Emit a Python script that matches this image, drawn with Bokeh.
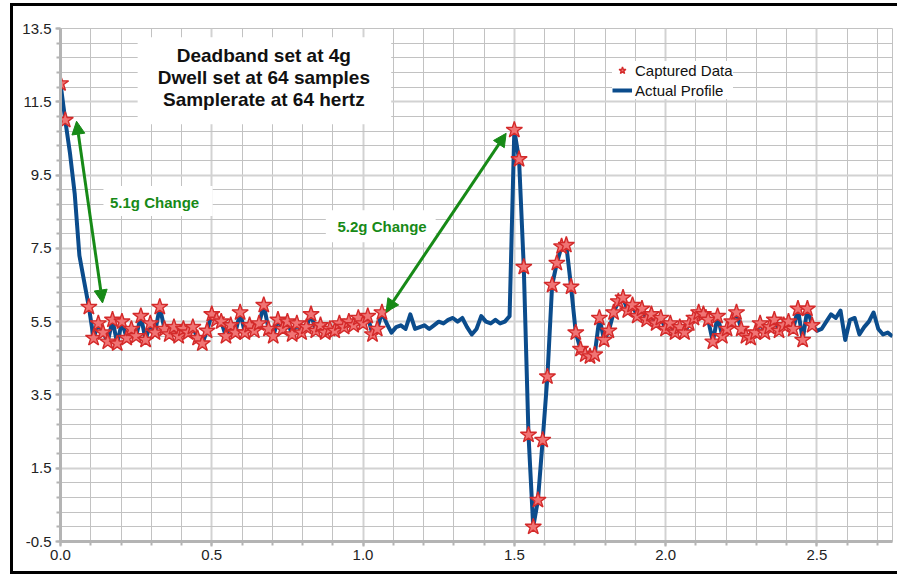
from bokeh.plotting import figure
from bokeh.models import (Range1d, FixedTicker, PrintfTickFormatter, Label, BoxAnnotation,
                          Arrow, NormalHead, Legend, LegendItem)
from bokeh.embed import file_html
from bokeh.resources import INLINE

# ---------------- data ----------------
SAMPLE_RATE = 64  # hertz

# Actual profile (g), one value per sample at 64 Hz, starting at t = 0 s
profile_g = [
    12.0, 11.0, 10.1, 9.0, 7.3, 6.6, 5.9, 5.05, 5.45, 5.2,
    4.95, 5.55, 4.9, 5.5, 5.05, 5.3, 5.1, 5.65, 5.0, 5.45,
    5.2, 5.9, 5.3, 5.15, 5.35, 5.1, 5.3, 5.2, 5.35, 5.05,
    4.9, 5.25, 5.7, 5.55, 5.5, 5.1, 5.4, 5.2, 5.75, 5.2,
    5.4, 5.25, 5.45, 5.95, 5.3, 5.1, 5.55, 5.3, 5.5, 5.15,
    5.45, 5.2, 5.35, 5.7, 5.25, 5.4, 5.2, 5.3, 5.25, 5.45,
    5.35, 5.5, 5.4, 5.6, 5.45, 5.65, 5.15, 5.3, 5.75, 5.45,
    5.2, 5.35, 5.4, 5.3, 5.7, 5.3, 5.35, 5.4, 5.3, 5.4,
    5.5, 5.45, 5.55, 5.6, 5.5, 5.6, 5.35, 5.15, 5.3, 5.65,
    5.5, 5.45, 5.55, 5.45, 5.5, 5.65, 10.73, 9.93, 6.99, 2.41,
    -0.1, 0.63, 2.27, 4.0, 6.5, 7.1, 7.55, 7.59, 6.45, 5.2,
    4.75, 4.6, 4.55, 4.6, 5.6, 5.0, 5.25, 5.75, 6.05, 6.15,
    5.8, 5.95, 5.65, 5.85, 5.55, 5.7, 5.45, 5.6, 5.3, 5.45,
    5.2, 5.35, 5.2, 5.45, 5.6, 5.75, 5.7, 5.55, 4.95, 5.65,
    5.1, 5.3, 5.5, 5.75, 5.3, 5.1, 5.05, 5.2, 5.45, 5.2,
    5.35, 5.55, 5.25, 5.4, 5.5, 5.3, 5.85, 5.0, 5.85, 5.4,
    5.25, 5.3, 5.5, 5.7, 5.6, 5.8, 5.0, 5.55, 5.6, 5.15,
    5.35, 5.5, 5.75, 5.3, 5.15, 5.2, 5.1,
]
profile_t = [i / SAMPLE_RATE for i in range(len(profile_g))]

# Samples that were captured (indices into the profile)
captured_idx = [0, 1] + list(range(6, 69)) + list(range(96, 160))
captured_t = [profile_t[i] for i in captured_idx]
captured_g = [profile_g[i] for i in captured_idx]

x_major = [0.0, 0.5, 1.0, 1.5, 2.0, 2.5]
x_minor = [round(0.1 * k, 2) for k in range(28)]
y_major = [-0.5, 1.5, 3.5, 5.5, 7.5, 9.5, 11.5, 13.5]
y_minor = [round(-0.5 + 0.4 * k, 2) for k in range(36)]

title_lines = ["Deadband set at 4g", "Dwell set at 64 samples", "Samplerate at 64 hertz"]
title_x = 0.672
title_y = [12.77, 12.17, 11.57]
title_box = dict(left=0.255, right=1.093, top=13.26, bottom=10.89)

change1_text, change1_pos = "5.1g Change", (0.311, 8.76)
change1_box = dict(left=0.142, right=0.503, top=9.2, bottom=8.38)
change1_arrow = (0.139, 6.01, 0.053, 10.97)

change2_text, change2_pos = "5.2g Change", (1.063, 8.11)
change2_box = dict(left=0.877, right=1.24, top=8.54, bottom=7.67)
change2_arrow = (1.076, 5.76, 1.473, 10.64)

# ---------------- styling ----------------
FONT = "Liberation Sans"
GREEN = "#178a17"
BLUE = "#0b4c8c"
GRID = "#c2c2c2"
AXIS = "#b4b4b4"

p = figure(width=887, height=571, x_range=Range1d(0, 2.75), y_range=Range1d(-0.5, 13.5),
           output_backend="svg", toolbar_location=None,
           min_border_left=50, min_border_right=5, min_border_top=25, min_border_bottom=33)
p.margin = (3, 0, 0, 10)
p.styles = {"box-shadow": "inset 3px 0 0 0 black, inset 0 3px 0 0 black, inset 0 -3px 0 0 black"}
p.background_fill_color = "white"
p.border_fill_color = "white"
p.border_fill_alpha = 0
p.outline_line_color = GRID
p.outline_line_width = 1

xt = FixedTicker(ticks=x_major, minor_ticks=x_minor)
yt = FixedTicker(ticks=y_major, minor_ticks=y_minor)
p.xaxis.ticker = xt
p.yaxis.ticker = yt
p.xgrid.ticker = xt
p.ygrid.ticker = yt

for g in (p.xgrid, p.ygrid):
    g.grid_line_color = "#d2d2d2"
    g.grid_line_width = 2
    g.minor_grid_line_color = GRID
    g.minor_grid_line_width = 1

for ax in (p.xaxis, p.yaxis):
    ax.formatter = PrintfTickFormatter(format="%.1f")
    ax.axis_line_color = AXIS
    ax.axis_line_width = 3
    ax.major_tick_line_color = AXIS
    ax.major_tick_line_width = 2
    ax.major_tick_in = 0
    ax.major_tick_out = 5
    ax.minor_tick_line_color = AXIS
    ax.minor_tick_line_width = 2
    ax.minor_tick_in = 0
    ax.minor_tick_out = 4
    ax.major_label_text_font = FONT
    ax.major_label_text_font_size = "15px"
    ax.major_label_text_color = "#222222"
p.yaxis.major_label_standoff = 4
p.xaxis.major_label_standoff = 3

# annotation boxes (white backgrounds)
p.add_layout(BoxAnnotation(**title_box, fill_color="white", fill_alpha=1, line_color=None, level="underlay"))
p.add_layout(BoxAnnotation(**change1_box, fill_color="white", fill_alpha=1, line_color=None, level="underlay"))
p.add_layout(BoxAnnotation(**change2_box, fill_color="white", fill_alpha=1, line_color=None, level="underlay"))

line = p.line(profile_t, profile_g, line_color=BLUE, line_width=4, line_join="round")
stars = p.scatter(captured_t, captured_g, marker="star", size=17,
                  fill_color="#f07474", line_color="#d42a2a", line_width=1.4)

for txt, yy in zip(title_lines, title_y):
    p.add_layout(Label(x=title_x, y=yy, text=txt, text_align="center", text_baseline="middle",
                       text_font=FONT, text_font_style="bold", text_font_size="19px",
                       text_color="#111111"))

p.add_layout(Label(x=change1_pos[0], y=change1_pos[1], text=change1_text, text_align="center",
                   text_baseline="middle", text_font=FONT, text_font_style="bold",
                   text_font_size="15px", text_color=GREEN))
p.add_layout(Label(x=change2_pos[0], y=change2_pos[1], text=change2_text, text_align="center",
                   text_baseline="middle", text_font=FONT, text_font_style="bold",
                   text_font_size="15px", text_color=GREEN))

for (xs, ys, xe, ye) in (change1_arrow, change2_arrow):
    p.add_layout(Arrow(x_start=xs, y_start=ys, x_end=xe, y_end=ye,
                       start=NormalHead(size=13, fill_color=GREEN, line_color=GREEN),
                       end=NormalHead(size=13, fill_color=GREEN, line_color=GREEN),
                       line_color=GREEN, line_width=3))

legend = Legend(items=[LegendItem(label="Captured Data", renderers=[stars]),
                       LegendItem(label="Actual Profile", renderers=[line])],
                location=(552, 442), border_line_color=None,
                background_fill_color="white", background_fill_alpha=1,
                label_text_font=FONT, label_text_font_size="15px", label_text_color="#111111",
                glyph_width=20, glyph_height=18, label_height=18, spacing=2,
                padding=8, label_standoff=3, margin=0)
p.add_layout(legend)

open("out.html", "w").write(file_html(p, INLINE))
